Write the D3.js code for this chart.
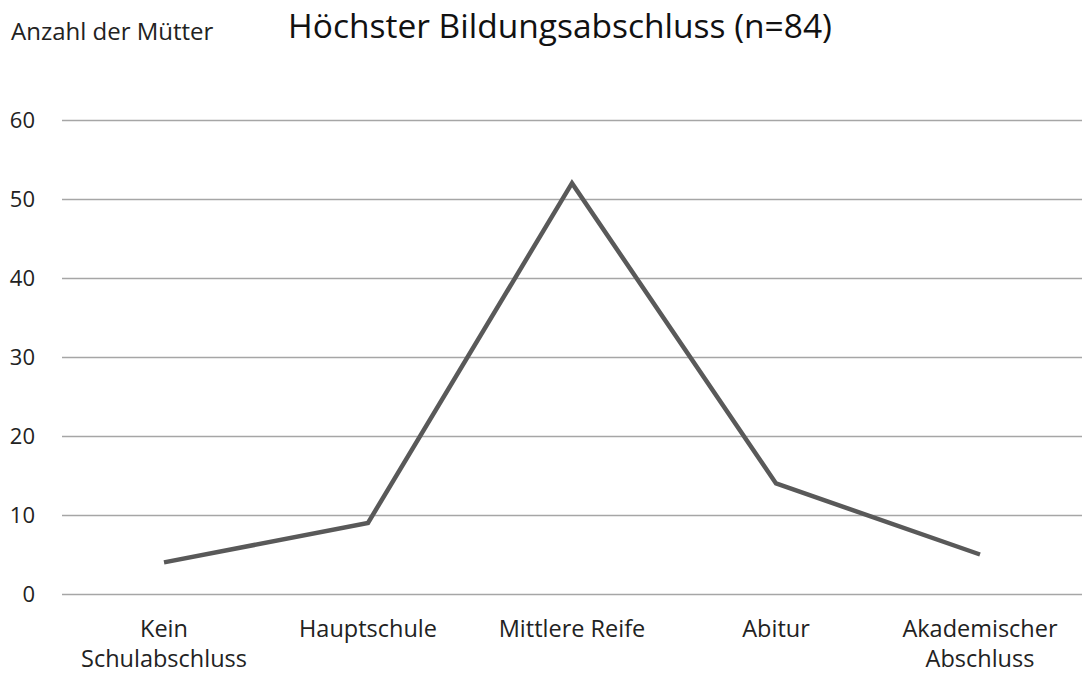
<!DOCTYPE html>
<html>
<head>
<meta charset="utf-8">
<script src="https://cdn.jsdelivr.net/npm/d3@7"></script>
<style>
  body { margin: 0; background: #fff; }
  text { font-family: "Open Sans", "Noto Sans", sans-serif; }
</style>
</head>
<body>
<svg id="chart" width="1082" height="673"></svg>
<script>
// values
var categories = [["Kein", "Schulabschluss"], ["Hauptschule"], ["Mittlere Reife"], ["Abitur"], ["Akademischer", "Abschluss"]];
var counts = [4, 9, 52, 14, 5];
var yTicks = [0, 10, 20, 30, 40, 50, 60];

var svg = d3.select("#chart");
var margin = {top: 120, right: 0, bottom: 79, left: 62};
var width = 1082 - margin.left - margin.right;
var height = 673 - margin.top - margin.bottom;

var x = d3.scaleBand()
  .domain(d3.range(categories.length))
  .range([0, width]);

var y = d3.scaleLinear()
  .domain([0, 60])
  .range([height, 0]);

var g = svg.append("g")
  .attr("transform", "translate(" + margin.left + "," + margin.top + ")");

// grid lines
var yAxis = g.append("g")
  .call(d3.axisLeft(y).tickValues(yTicks).tickSize(-width).tickPadding(27));
yAxis.select(".domain").remove();
yAxis.selectAll(".tick line")
  .attr("stroke", "#a6a6a6")
  .attr("stroke-width", 1.3);
yAxis.selectAll(".tick text")
  .attr("fill", "#222")
  .style("font-size", "22px");

// category labels
var xl = g.append("g")
  .attr("transform", "translate(0," + height + ")");
xl.selectAll("text")
  .data(categories)
  .enter().append("text")
  .attr("text-anchor", "middle")
  .attr("x", function (d, i) { return x(i) + x.bandwidth() / 2; })
  .attr("y", 43)
  .attr("fill", "#222")
  .style("font-size", "23.5px")
  .selectAll("tspan")
  .data(function (d) { return d; })
  .enter().append("tspan")
  .attr("x", function () { return d3.select(this.parentNode).attr("x"); })
  .attr("dy", function (d, i) { return i === 0 ? 0 : 30; })
  .text(function (d) { return d; });

var line = d3.line()
  .x(function (d, i) { return x(i) + x.bandwidth() / 2; })
  .y(function (d) { return y(d); });

g.append("path")
  .datum(counts)
  .attr("d", line)
  .attr("fill", "none")
  .attr("stroke", "#595959")
  .attr("stroke-width", 4.5)
  .attr("stroke-linejoin", "miter");

svg.append("text")
  .attr("x", 560)
  .attr("y", 38)
  .attr("text-anchor", "middle")
  .attr("fill", "#111")
  .style("font-size", "33.5px")
  .text("Höchster Bildungsabschluss (n=84)");

svg.append("text")
  .attr("x", 11)
  .attr("y", 40)
  .attr("fill", "#222")
  .style("font-size", "24px")
  .text("Anzahl der Mütter");
</script>
</body>
</html>
